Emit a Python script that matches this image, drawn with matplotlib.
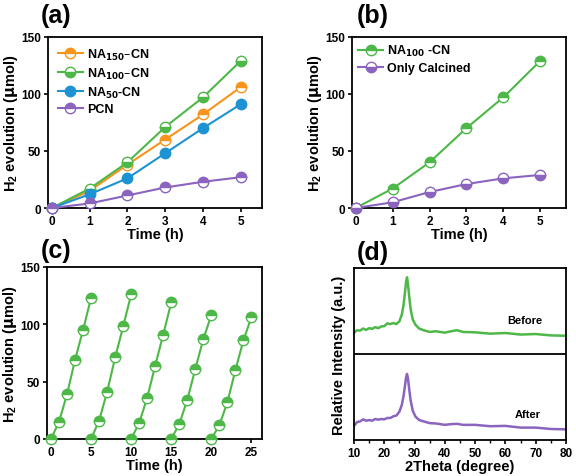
import matplotlib
matplotlib.use("Agg")
import matplotlib.pyplot as plt

plt.rcParams['font.family'] = ['Liberation Sans', 'DejaVu Sans']
plt.rcParams['font.weight'] = 'bold'
plt.rcParams['mathtext.default'] = 'regular'

# (a) H2 evolution vs time for the series
time_h = [0, 1, 2, 3, 4, 5]
na150 = [0, 15, 38, 60, 82, 106]
na100 = [0, 17, 40, 71, 97, 129]
na50 = [0, 12, 26, 48, 70, 91]
pcn = [0, 4, 11, 18, 23, 27]

# (b)
na100_b = [0, 17, 40, 70, 97, 129]
calcined = [0, 5, 14, 21, 26, 29]

# (c) cycling, 5 runs
cycle_t = [[0, 1, 2, 3, 4, 5], [5, 6, 7, 8, 9, 10], [10, 11, 12, 13, 14, 15],
           [15, 16, 17, 18, 19, 20], [20, 21, 22, 23, 24, 25]]
cycle_h2 = [[0, 15, 39, 69, 95, 123], [0, 16, 41, 71, 98, 126], [0, 14, 36, 64, 91, 119],
            [0, 13, 34, 61, 87, 108], [0, 12, 32, 60, 86, 106]]

# (d) XRD before / after (stacked, display units)
two_theta = [10, 11, 12, 13, 14, 15, 16, 17, 18, 19, 20, 21, 22, 23, 24, 25, 25.8, 26.4,
             26.9, 27.2, 27.5, 27.8, 28.2, 28.7, 29.4, 30.3, 31.5, 33, 35, 37, 40, 42, 44,
             46, 50, 55, 60, 65, 70, 75, 80]
before = [62.4, 63.8, 63.6, 64.8, 64.0, 65.0, 64.6, 65.6, 65.0, 66.0, 66.2, 67.8, 67.4, 68.0,
          67.4, 69.0, 73.0, 79.0, 87.0, 92.0, 94.6, 91.0, 84.0, 76.0, 70.0, 67.0, 64.8, 63.8,
          62.8, 63.2, 62.4, 63.2, 63.8, 62.8, 62.6, 61.8, 62.2, 61.3, 61.6, 60.8, 60.6]
after = [8.2, 10.4, 10.8, 12.0, 11.2, 11.6, 11.2, 12.2, 11.8, 12.2, 12.0, 12.8, 12.8, 13.8,
         14.2, 16.5, 20.5, 26.0, 32.5, 36.5, 38.4, 36.0, 30.0, 23.0, 17.0, 13.6, 11.6, 10.8,
         9.8, 9.6, 8.8, 9.2, 9.4, 8.8, 8.8, 8.0, 8.2, 7.2, 7.2, 6.4, 6.2]

orange = '#F7941D'
green = '#4DB848'
blue = '#1E93D3'
purple = '#8A64BE'

fig = plt.figure(figsize=(5.76, 4.77), dpi=100)
ax_a = fig.add_axes([0.0833, 0.5618, 0.371, 0.359])
ax_b = fig.add_axes([0.611, 0.5618, 0.372, 0.359])
ax_c = fig.add_axes([0.0816, 0.0776, 0.373, 0.361])
ax_d = fig.add_axes([0.6146, 0.0755, 0.368, 0.3606])


def style(ax):
    for s in ax.spines.values():
        s.set_linewidth(1.3)
    ax.tick_params(labelsize=8.5, width=1.2, length=3, direction='out', pad=2)
    for lab in ax.get_xticklabels() + ax.get_yticklabels():
        lab.set_fontweight('bold')


def ser(ax, x, y, c, fs, label=None):
    ax.plot(x, y, '-o', color=c, lw=1.5, ms=7.5, mec=c, mfc=c, fillstyle=fs,
            markerfacecoloralt='white', mew=1.0, label=label, clip_on=False, zorder=3)


leg_kw = dict(loc='upper left', frameon=False, handlelength=2.0, handletextpad=0.3,
              labelspacing=0.3, prop={'weight': 'bold', 'size': 9})

# (a)
ser(ax_a, time_h, na150, orange, 'top', r'NA$_{\mathbf{150}}$–CN')
ser(ax_a, time_h, na100, green, 'bottom', r'NA$_{\mathbf{100}}$–CN')
ax_a.plot(time_h, na50, '-o', color=blue, lw=1.5, ms=7.5, label=r'NA$_{\mathbf{50}}$-CN',
          clip_on=False, zorder=3)
ser(ax_a, time_h, pcn, purple, 'top', 'PCN')
ax_a.set_xlim(-0.1, 5.55)
ax_a.set_ylim(0, 150)
ax_a.set_yticks([0, 50, 100, 150])
ax_a.legend(borderaxespad=0.4, **leg_kw)

# (b)
ser(ax_b, time_h, na100_b, green, 'top', r'NA$_{\mathbf{100}}$ -CN')
ser(ax_b, time_h, calcined, purple, 'bottom', 'Only Calcined')
ax_b.set_xlim(-0.1, 5.7)
ax_b.set_ylim(0, 150)
ax_b.set_yticks([0, 50, 100, 150])
ax_b.legend(borderaxespad=0.1, **leg_kw)

# (c)
for t, h in zip(cycle_t, cycle_h2):
    ser(ax_c, t, h, green, 'top')
ax_c.set_xlim(-0.5, 26.3)
ax_c.set_ylim(0, 150)
ax_c.set_yticks([0, 50, 100, 150])
ax_c.set_xticks([0, 5, 10, 15, 20, 25])

for ax in (ax_a, ax_b, ax_c):
    ax.set_xlabel('Time (h)', fontsize=10.5, fontweight='bold', labelpad=0)
    ax.set_ylabel(r'H$_2$ evolution ($\mathbf{\mu}$mol)', fontsize=10.5, fontweight='bold',
                  labelpad=1)
    style(ax)

# (d)
ax_d.plot(two_theta, before, color=green, lw=1.8)
ax_d.plot(two_theta, after, color=purple, lw=1.8)
ax_d.axhline(50, color='black', lw=1.3)
ax_d.set_xlim(10, 80)
ax_d.set_ylim(0, 100)
ax_d.set_yticks([])
ax_d.set_xticks([10, 20, 30, 40, 50, 60, 70, 80])
ax_d.set_xticks(range(15, 80, 10), minor=True)
ax_d.tick_params(which='minor', length=2, width=1.0)
ax_d.text(66.5, 70, 'Before', fontsize=8, fontweight='bold', ha='center', va='center')
ax_d.text(67.5, 15, 'After', fontsize=8, fontweight='bold', ha='center', va='center')
ax_d.set_xlabel('2Theta (degree)', fontsize=10.5, fontweight='bold', labelpad=0)
ax_d.set_ylabel('Relative Intensity (a.u.)', fontsize=10.5, fontweight='bold', labelpad=6)
style(ax_d)

for lab, x, y in [('(a)', 0.097, 0.967), ('(b)', 0.648, 0.967),
                  ('(c)', 0.097, 0.474), ('(d)', 0.648, 0.47)]:
    fig.text(x, y, lab, fontsize=18, fontweight='bold', ha='center', va='center')

fig.savefig('out.png', dpi=100)
